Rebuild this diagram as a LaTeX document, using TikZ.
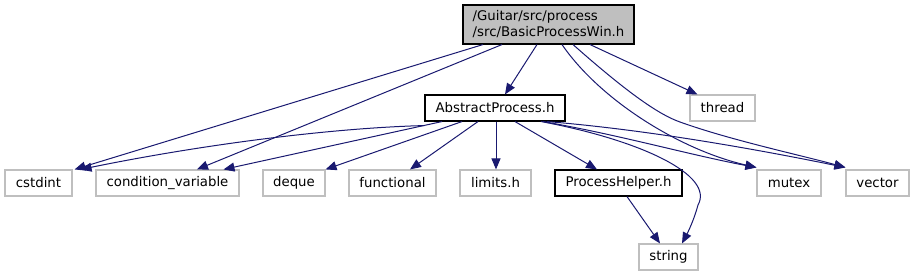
\documentclass[tikz,border=0pt]{standalone}
\usepackage{fontspec}
\setmainfont{DejaVu Sans}
\usetikzlibrary{arrows.meta,calc}
\definecolor{edgec}{HTML}{191970}
\definecolor{leafc}{HTML}{BFBFBF}
\definecolor{rootfill}{HTML}{BFBFBF}
\tikzset{
  box/.style={draw=black, line width=1.1pt, fill=white, inner sep=0pt, minimum height=26pt, font=\fontsize{13.3}{16}\selectfont, text=black},
  leaf/.style={box, draw=leafc},
  rootbox/.style={box, fill=rootfill, minimum height=39pt, align=left},
  dep/.style={draw=edgec, line width=1pt, -{Triangle[length=11pt,width=9pt]}, color=edgec},
}
\begin{document}
\begin{tikzpicture}[x=1pt,y=-1pt]
\useasboundingbox (0,0) rectangle (914,276);
\node[rootbox, minimum width=171pt] (root) at (548.5,24.5) {/Guitar/src/process\\/src/BasicProcessWin.h};
\node[box, minimum width=140pt] (abs) at (495,108) {AbstractProcess.h};
\node[leaf, minimum width=65pt] (thread) at (722.5,108) {thread};
\node[leaf, minimum width=67pt] (cstdint) at (38.5,183) {cstdint};
\node[leaf, minimum width=143pt] (cond) at (167.5,183) {condition\_variable};
\node[leaf, minimum width=62pt] (deque) at (294,183) {deque};
\node[leaf, minimum width=87pt] (functional) at (392.5,183) {functional};
\node[leaf, minimum width=71pt] (limits) at (495.5,183) {limits.h};
\node[box, minimum width=127pt] (helper) at (618.5,183) {ProcessHelper.h};
\node[leaf, minimum width=64pt] (mutex) at (789,183) {mutex};
\node[leaf, minimum width=63pt] (vector) at (877.5,183) {vector};
\node[leaf, minimum width=59pt] (string) at (668.5,257) {string};

% from root
\draw[dep] ([xshift=-65.5pt]root.south) -- ([xshift=2pt]cstdint.north east);
\draw[dep] ([xshift=-46.5pt]root.south) -- ([xshift=29.5pt]cond.north);
\draw[dep] ([xshift=-11.5pt]root.south) -- ([xshift=10pt]abs.north);
\draw[dep] ([xshift=41.5pt]root.south) -- ([xshift=8pt]thread.north west);
\draw[dep] ([xshift=13.5pt]root.south) .. controls (600,100) and (680,150) .. ([yshift=2pt]mutex.north west);
\draw[dep] ([xshift=24.5pt]root.south) .. controls (630,95) and (660,115) .. (680,122) .. controls (730,140) and (800,155) .. ([yshift=2pt]vector.north west);

% from AbstractProcess
\draw[dep] ([yshift=-4pt]abs.south west) .. controls (330,128) and (200,145) .. ([xshift=8pt]cstdint.north east);
\draw[dep] ([xshift=-53pt]abs.south) -- ([xshift=56pt]cond.north);
\draw[dep] ([xshift=-33pt]abs.south) -- (deque.north east);
\draw[dep] ([xshift=-17pt]abs.south) -- ([xshift=17.5pt]functional.north);
\draw[dep] ([xshift=1pt]abs.south) -- ([xshift=0.5pt]limits.north);
\draw[dep] ([xshift=20pt]abs.south) -- ([xshift=-21.5pt]helper.north);
\draw[dep] ([xshift=48pt]abs.south) .. controls (620,135) and (690,155) .. ([yshift=2pt]mutex.north west);
\draw[dep] ([xshift=52pt]abs.south) .. controls (650,130) and (760,150) .. ([yshift=2pt]vector.north west);
\draw[dep] ([xshift=46pt]abs.south) .. controls (640,140) and (715,175) .. (698,205) .. controls (694,220) and (688,232) .. ([xshift=13.5pt]string.north);
\draw[dep] ([xshift=8.5pt]helper.south) -- ([xshift=-8.5pt]string.north);
\end{tikzpicture}
\end{document}
